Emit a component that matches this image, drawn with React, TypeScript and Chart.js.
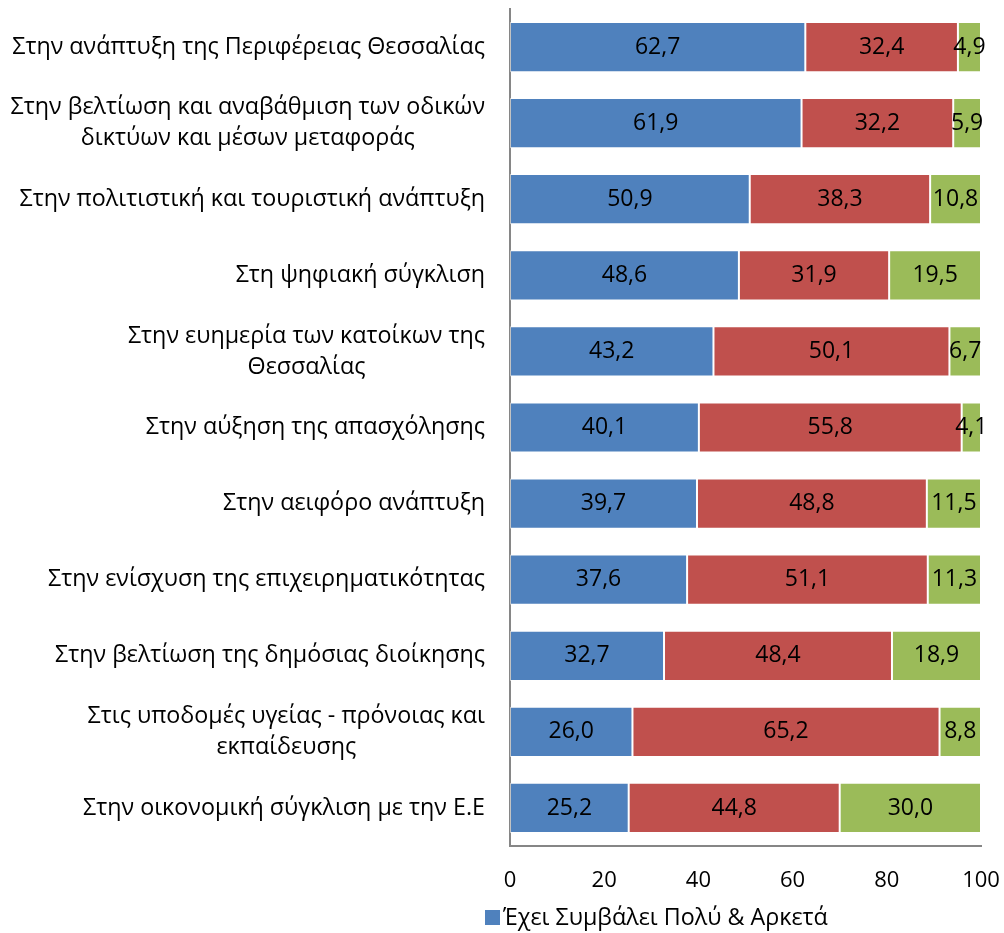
import React, { useEffect, useRef } from "react";
import { Chart, registerables } from "chart.js";

Chart.register(...registerables);

const categories: (string | string[])[] = [
  "Στην ανάπτυξη της Περιφέρειας Θεσσαλίας",
  ["Στην βελτίωση και αναβάθμιση των οδικών", "δικτύων και μέσων μεταφοράς"],
  "Στην πολιτιστική και τουριστική ανάπτυξη",
  "Στη ψηφιακή σύγκλιση",
  ["Στην ευημερία των κατοίκων της", "Θεσσαλίας"],
  "Στην αύξηση της απασχόλησης",
  "Στην αειφόρο ανάπτυξη",
  "Στην ενίσχυση της επιχειρηματικότητας",
  "Στην βελτίωση της δημόσιας διοίκησης",
  ["Στις υποδομές υγείας - πρόνοιας και", "εκπαίδευσης"],
  "Στην οικονομική σύγκλιση με την Ε.Ε",
];

const seriesNames = ["Έχει Συμβάλει Πολύ & Αρκετά", "Έχει Συμβάλει Λίγο & Καθόλου", "ΔΓ/ΔΑ"];
const muchValues = [62.7, 61.9, 50.9, 48.6, 43.2, 40.1, 39.7, 37.6, 32.7, 26.0, 25.2];
const littleValues = [32.4, 32.2, 38.3, 31.9, 50.1, 55.8, 48.8, 51.1, 48.4, 65.2, 44.8];
const dkValues = [4.9, 5.9, 10.8, 19.5, 6.7, 4.1, 11.5, 11.3, 18.9, 8.8, 30.0];
const xTicks = [0, 20, 40, 60, 80, 100];

const colors = ["#4F81BD", "#C0504D", "#9BBB59"];
const FONT = "'Open Sans', 'Noto Sans', sans-serif";

export default function App() {
  const ref = useRef<HTMLCanvasElement | null>(null);

  useEffect(() => {
    document.body.style.margin = "0";
    const canvas = ref.current!;
    const ctx0 = canvas.getContext("2d")!;
    ctx0.font = `100px ${FONT}`;
    const w100 = ctx0.measureText(categories[0] as string).width;
    const labelSize = Math.min(26, (100 * 473) / w100);

    const customPlugin = {
      id: "custom",
      afterDraw(chart: any) {
        const ctx = chart.ctx;
        const yScale = chart.scales.y;
        ctx.save();
        // y category labels: block right-aligned, lines centered
        ctx.font = `${labelSize}px ${FONT}`;
        ctx.fillStyle = "#000";
        ctx.textBaseline = "middle";
        const rightEdge = chart.chartArea.left - 25;
        const lh = 31;
        categories.forEach((c, i) => {
          const lines = Array.isArray(c) ? c : [c];
          const widths = lines.map((l) => ctx.measureText(l).width);
          const widest = Math.max(...widths);
          const cx = rightEdge - widest / 2;
          const yc = yScale.getPixelForTick(i);
          ctx.textAlign = "center";
          lines.forEach((l, j) => {
            ctx.fillText(l, cx, yc + (j - (lines.length - 1) / 2) * lh);
          });
        });
        // data labels
        ctx.font = `23px ${FONT}`;
        ctx.textAlign = "center";
        chart.data.datasets.forEach((ds: any, di: number) => {
          const meta = chart.getDatasetMeta(di);
          meta.data.forEach((bar: any, i: number) => {
            const v = ds.data[i];
            const { x, base, y } = bar.getProps(["x", "base", "y"], true);
            ctx.fillText(v.toFixed(1).replace(".", ","), (x + base) / 2, y);
          });
        });
        // legend (first series only, as visible)
        const lx = chart.chartArea.left - 25;
        const ly = 918;
        ctx.fillStyle = colors[0];
        ctx.fillRect(lx, ly - 8, 15, 15);
        ctx.fillStyle = "#000";
        ctx.textAlign = "left";
        ctx.font = `${labelSize}px ${FONT}`;
        ctx.fillText(seriesNames[0], lx + 18, ly);
        ctx.restore();
      },
    };

    const chart = new Chart(canvas, {
      type: "bar",
      data: {
        labels: categories,
        datasets: [muchValues, littleValues, dkValues].map((d, i) => ({
          label: seriesNames[i],
          data: d,
          backgroundColor: colors[i],
          borderColor: "rgba(255,255,255,0.5)",
          borderWidth: 1,
          borderSkipped: false,
          categoryPercentage: 1,
          barPercentage: 0.66,
        })),
      },
      options: {
        indexAxis: "y",
        animation: false,
        responsive: true,
        maintainAspectRatio: false,
        layout: { padding: { top: 9, right: 23, left: 0, bottom: 37 } },
        plugins: {
          legend: { display: false },
          tooltip: { enabled: false },
        },
        scales: {
          x: {
            stacked: true,
            min: 0,
            max: 100,
            afterBuildTicks: (s: any) => {
              s.ticks = xTicks.map((v) => ({ value: v }));
            },
            afterFit: (s: any) => {
              s.height = 50;
              s.paddingRight = 0;
              s.paddingLeft = 0;
            },
            grid: { display: false, drawTicks: false },
            border: { display: true, color: "#868686", width: 2 },
            ticks: {
              padding: 22,
              color: "#000",
              font: { family: FONT, size: 22 },
            },
          },
          y: {
            stacked: true,
            afterFit: (s: any) => {
              s.width = 510;
              s.paddingTop = 0;
              s.paddingBottom = 0;
            },
            grid: { display: false, drawTicks: false },
            border: { display: true, color: "#868686", width: 2 },
            ticks: { display: false },
          },
        },
      },
      plugins: [customPlugin],
    } as any);
    return () => chart.destroy();
  }, []);

  return (
    <div style={{ width: 1004, height: 933, position: "relative" }}>
      <canvas ref={ref} />
    </div>
  );
}
